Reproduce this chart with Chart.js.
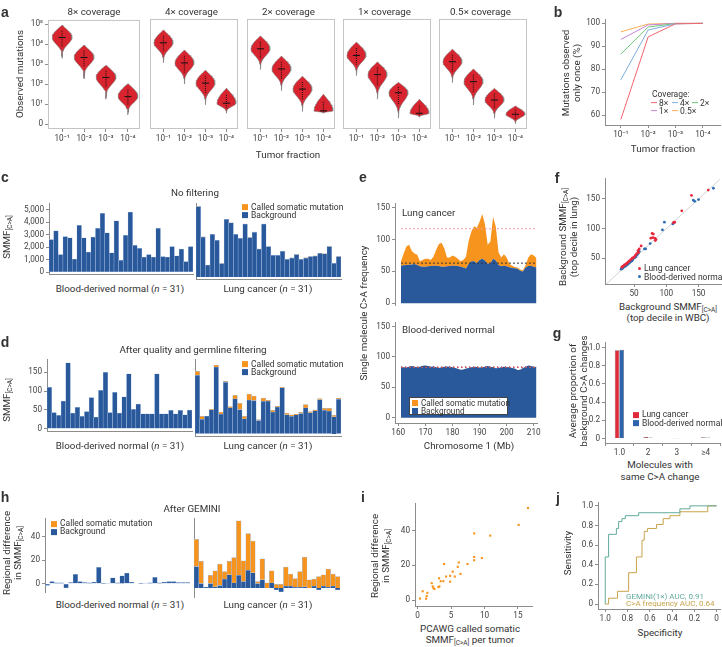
<!DOCTYPE html>
<html>
<head>
<meta charset="utf-8">
<script src="https://cdn.jsdelivr.net/npm/chart.js@4.4.0/dist/chart.umd.min.js"></script>
<style>
body { margin: 0; background: #fff; }
#fig { position: relative; width: 722px; height: 647px; overflow: hidden; font-family: Roboto, "DejaVu Sans", sans-serif; color: #333; }
#fig canvas { position: absolute; }
.t { position: absolute; white-space: nowrap; font-size: 9.8px; line-height: 1.15; transform: translate(-50%, -50%); text-align: center; z-index: 2; }
.t.r { transform: translate(-50%, -50%) rotate(-90deg); }
.t.lft { transform: translate(0, -50%); text-align: left; }
.t.sm { font-size: 8.5px; }
.t.xs { font-size: 8px; }
.t.L { font-family: "Liberation Sans", Arial, sans-serif; font-weight: 700; font-size: 14px; }
sub { font-size: 6.5px; vertical-align: -2px; line-height: 0; }
.sw { display: inline-block; width: 6px; height: 6px; margin-right: 3px; vertical-align: -0.5px; }
.ln { display: inline-block; width: 6px; height: 1.2px; margin-right: 2px; vertical-align: 3px; }
.dot { display: inline-block; width: 3px; height: 3px; border-radius: 2px; margin-right: 3px; vertical-align: 1.5px; }
#eleg { position: absolute; left: 409px; top: 397px; width: 99px; height: 18px; background: #fff; border: 1px solid #444; z-index: 2; font-size: 8.2px; line-height: 8px; padding: 0.5px 2px; box-sizing: border-box; white-space: nowrap; }
</style>
</head>
<body>
<div id="fig"></div>
<script>
'use strict';
// ---------- a: observed mutations (violins, log10 units) ----------
let coverages = ['8×', '4×', '2×', '1×', '0.5×'];
let tumorFractions = ['10⁻¹', '10⁻²', '10⁻³', '10⁻⁴'];
let logTickLabels = ['0', '10¹', '10²', '10³', '10⁴', '10⁵'];
let violinTop = [[4.95, 3.95, 2.95, 2.03], [4.67, 3.67, 2.67, 1.78], [4.37, 3.37, 2.37, 1.48], [4.07, 3.08, 2.07, 1.23], [3.71, 2.73, 1.77, 0.89]];
let violinMode = [[4.33, 3.33, 2.33, 1.37], [4.03, 3.03, 2.03, 1.03], [3.73, 2.73, 1.73, 0.65], [3.4, 2.45, 1.55, 0.53], [3.09, 2.1, 1.19, 0.48]];
let violinBottom = [[3.28, 2.27, 1.25, 0.45], [3.03, 1.98, 0.95, 0.53], [2.7, 1.65, 0.62, 0.53], [2.4, 1.23, 0.29, 0.33], [2.05, 0.94, 0.28, 0.0]];

// ---------- b: mutations observed only once (%) ----------
let onceObserved = [[58.1, 94.1, 99.8, 100], [75.4, 97.1, 99.8, 100], [86.6, 98.4, 99.9, 100], [93, 99.3, 100, 100], [96.3, 99.7, 100, 100]];

// ---------- c: no filtering ----------
let normalNoFilter = [2600, 3300, 1400, 2850, 2750, 1050, 3750, 2750, 1600, 2800, 3500, 4700, 3150, 1550, 4100, 950, 2950, 4800, 2150, 1900, 1200, 1400, 1200, 3500, 1250, 1200, 2050, 1300, 1850, 850, 2050];
let lungNoFilter = [5200, 2950, 880, 3150, 2700, 980, 4250, 4000, 3150, 2850, 3900, 2900, 3300, 2050, 3900, 2250, 1600, 1600, 1900, 1300, 1400, 1650, 1300, 1400, 1500, 1550, 1750, 1700, 2250, 1000, 1500];

// ---------- d: after quality and germline filtering ----------
let normalFiltered = [110, 43, 36, 74, 175, 42, 57, 33, 46, 83, 31, 102, 150, 43, 97, 42, 85, 146, 52, 66, 40, 40, 40, 146, 40, 40, 49, 40, 49, 37, 50];
let lungFiltered = [143, 35, 43, 58, 163, 48, 126, 63, 85, 59, 36, 82, 81, 32, 79, 80, 53, 65, 112, 46, 42, 46, 49, 63, 51, 56, 83, 57, 55, 41, 84];
let lungSomatic = [10, 7, 0, 2, 5, 5, 2, 3, 9, 15, 6, 15, 11, 2, 8, 2, 4, 2, 2, 4, 4, 2, 3, 8, 3, 2, 3, 5, 7, 4, 3];

// ---------- h: after GEMINI ----------
let normalGemini = [-1.5, 1.8, 0.8, 0.8, -3.5, 1, 8, 1.8, 1, 0.8, 1.5, 14, 0.3, 0.5, 5, 0.8, 6.8, 9, 1.5, 0, 0.3, 0.5, 0.8, 5.5, 0.8, 1.5, 1.8, 1.8, 1, 1, 1];
let lungGeminiBackground = [17, 3.5, 0.5, 3.5, 1, 2, 7, 10.5, 4, 10, 5, 14, 12, 3.5, 6.5, 0, 4, -1.5, -3, 1.5, 1.5, 0.5, 0.5, 1, 0, 1.5, -1.5, 1.5, 0.5, 1.5, -1.5];
let lungGeminiSomatic = [21.5, 17.5, 0.3, 6.5, 12.5, 17, 6, 10.5, 20, 43, 16.5, 29, 25, 1.5, 16.5, 4, 9.5, 3, 3, 15, 9.5, 7, 12.5, 23.5, 6.5, 5.5, 9, 9, 14.5, 9.5, 9];

// ---------- e: single molecule C>A frequency along chromosome 1 ----------
let chromPos = [161, 162, 163, 164, 165, 166, 167, 168, 169, 170, 171, 172, 173, 174, 175, 176, 177, 178, 179, 180, 181, 182, 183, 184, 185, 186, 187, 188, 189, 190, 191, 192, 193, 194, 195, 196, 197, 198, 199, 200, 201, 202, 203, 204, 205, 206, 207, 208, 209, 210, 211];
let lungBackground = [59, 59.5, 60, 60.5, 61, 61.5, 60, 58, 57.5, 57.5, 58, 58.5, 59, 59, 58.5, 57.5, 57.5, 58, 58.5, 59, 59, 58.5, 57.5, 56, 54.5, 62, 66, 66, 63, 68, 70, 67, 62, 63, 70, 67, 60, 58, 59, 58, 56.5, 55.5, 55, 54, 51, 50, 56, 58.5, 59, 57.5, 56];
let lungTotal = [65.5, 78, 89, 92, 82, 78, 76, 66, 68, 70, 70, 68, 73, 84, 93, 95, 86, 72, 72, 75, 73, 70, 66, 68, 73, 98, 113, 121, 118, 128, 140, 124, 92, 97, 136, 120, 80, 72, 77, 72, 62, 59, 57, 56, 53, 52, 60, 72, 77, 75, 71];
let normalBackground = [84, 83, 82.5, 84, 85, 84, 83, 84, 85.5, 86, 85, 84, 84.5, 83, 82, 83, 84, 84.5, 84, 83, 82, 80.5, 79, 79.5, 81, 82, 83, 84, 83.5, 82.5, 83, 84, 85, 84, 83, 81.5, 82, 83, 84, 83.5, 83, 82, 81, 78.5, 79, 82, 84, 86, 85, 83.5, 84];
let lungCutoff = 117, lungMean = 63, normalCutoff = 83, normalMean = 83.5;

// ---------- f: background SMMF, top decile ----------
let fLungWbc = [139, 165, 124, 113, 111, 78, 80, 79, 82, 84, 83, 76, 61, 58, 56, 57, 54, 52, 50, 47, 45, 43, 41, 39, 37, 35, 33, 32, 31, 38, 48];
let fLungLung = [156, 165, 130, 111, 110, 92, 91, 85, 84, 82, 80, 84, 71, 66, 63, 60, 58, 55, 52, 50, 48, 46, 44, 42, 40, 39, 37, 36, 35, 41, 51];
let fNormalWbc = [173, 142, 144, 150, 97, 94, 110, 112, 75, 68, 66, 58, 57, 55, 53, 51, 48, 46, 44, 42, 40, 38, 36, 35, 33, 32, 30, 41, 45, 47, 56];
let fNormalLung = [168, 148, 146, 149, 111, 98, 108, 110, 75, 66, 66, 62, 60, 56, 53, 51, 48, 46, 44, 42, 40, 38, 37, 36, 35, 33, 32, 41, 45, 46, 58];

// ---------- g: molecules with same C>A change ----------
let molCategories = ['1.0', '2', '3', '≥4'];
let molLung = [0.97, 0.015, 0.002, 0.012];
let molNormal = [0.975, 0.01, 0.002, 0.01];

// ---------- i: PCAWG vs regional difference ----------
let pcawgSomatic = [16.5, 15.1, 10.85, 8.45, 9.6, 8.45, 8.45, 7.45, 6.15, 3.95, 6.0, 6.4, 5.25, 4.85, 5.55, 4.25, 3.2, 3.45, 3.85, 4.85, 2.1, 2.25, 2.35, 3.1, 3.25, 0.75, 1.45, 1.35, 1.25, 0.35, 2.5];
let regionalDiff = [53.2, 43.4, 37.2, 38.5, 24.3, 24.9, 23, 20.8, 21.7, 20.8, 19.2, 15.1, 16.4, 14, 13.6, 13.6, 12.6, 10.9, 10.9, 10.6, 9.8, 7.9, 7, 7.5, 7.9, 5.1, 4.2, 2.3, 0.8, 0.9, 6.4];

// ---------- j: ROC ----------
let geminiSpec = [1.0, 1.0, 0.97, 0.97, 0.9, 0.9, 0.88, 0.88, 0.85, 0.85, 0.82, 0.82, 0.7, 0.7, 0.33, 0.33, 0.24, 0.24, 0];
let geminiSens = [0, 0.48, 0.48, 0.71, 0.71, 0.77, 0.77, 0.84, 0.84, 0.87, 0.87, 0.9, 0.9, 0.93, 0.93, 0.97, 0.97, 1.0, 1.0];
let freqSpec = [1.0, 0.97, 0.97, 0.89, 0.89, 0.79, 0.79, 0.72, 0.72, 0.67, 0.67, 0.65, 0.65, 0.62, 0.62, 0.54, 0.54, 0.48, 0.48, 0.42, 0.42, 0.33, 0.33, 0.08, 0.08, 0];
let freqSens = [0, 0, 0.06, 0.06, 0.13, 0.13, 0.32, 0.32, 0.48, 0.48, 0.65, 0.65, 0.74, 0.74, 0.77, 0.77, 0.81, 0.81, 0.87, 0.87, 0.9, 0.9, 0.94, 0.94, 1.0, 1.0];

// ---------- styles ----------
const BLUE = '#29589b', ORANGE = '#f7941d', EDGE = '#a9c1e2', RED = '#d7242f', AX = '#8c8c8c';
const COV_COLORS = ['#f0656f', '#7eaedd', '#6fca78', '#c784d6', '#f7ae55'];
const VW = 0.45; // violin half width (x units)
const PAD = 6;

Chart.defaults.font.family = 'Roboto, "DejaVu Sans", sans-serif';
Chart.defaults.font.size = 8.2;
Chart.defaults.color = '#444';

let fig = document.getElementById('fig');

function makeChart(area, yW, xH, config) {
  let l = Math.round(area[0]), t = Math.round(area[1]), r = Math.round(area[2]), b = Math.round(area[3]);
  let w = r - l + yW + PAD, h = b - t + xH + PAD;
  let cv = document.createElement('canvas');
  cv.width = w; cv.height = h;
  cv.style.left = (l - yW) + 'px'; cv.style.top = (t - PAD) + 'px';
  cv.style.width = w + 'px'; cv.style.height = h + 'px';
  fig.appendChild(cv);
  let o = config.options;
  o.responsive = false; o.animation = false; o.devicePixelRatio = 1;
  o.layout = {padding: {top: PAD, right: PAD, bottom: 0, left: 0}};
  o.plugins = Object.assign({legend: {display: false}, tooltip: {enabled: false}}, o.plugins || {});
  o.scales.x.afterFit = s => { s.height = xH; };
  o.scales.y.afterFit = s => { s.width = yW; };
  return new Chart(cv, config);
}

function lin(min, max, ticks, fmt) {
  return {
    type: 'linear', min: min, max: max,
    grid: {drawOnChartArea: false, drawTicks: true, tickLength: 3, color: AX},
    border: {display: true, color: AX, width: 1},
    afterBuildTicks: s => { s.ticks = ticks.map(v => ({value: v})); },
    ticks: {padding: 2, autoSkip: false, maxRotation: 0, callback: fmt || (v => String(v))}
  };
}
function hiddenAxis(type, min, max) {
  let s = {type: type, grid: {display: false}, ticks: {display: false}, border: {display: false}};
  if (min !== undefined) { s.min = min; s.max = max; }
  return s;
}
let dec1 = v => (v === 0 ? '0' : v.toFixed(1));

function txt(x, y, html, cls) {
  let d = document.createElement('div');
  d.className = 't ' + (cls || '');
  d.style.left = x + 'px'; d.style.top = y + 'px';
  d.innerHTML = html;
  fig.appendChild(d);
  return d;
}

const framePlugin = {
  id: 'frame',
  beforeDatasetsDraw(chart) {
    let a = chart.chartArea, ctx = chart.ctx;
    ctx.save(); ctx.strokeStyle = '#c4c4c4'; ctx.lineWidth = 1;
    ctx.strokeRect(a.left + 0.5, a.top + 0.5, a.right - a.left - 1, a.bottom - a.top - 1);
    ctx.restore();
  }
};

// violin outline from its summary values
function violinOutline(cx, top, mode, bottom) {
  let right = [];
  let n = 14;
  for (let k = 0; k <= n; k++) {
    let u = k / n;
    right.push({x: cx + VW * Math.pow(Math.sin(u * Math.PI / 2), 1.1), y: top - u * (top - mode)});
  }
  for (let k = 1; k <= n; k++) {
    let v = k / n;
    let hw = VW * (Math.pow(Math.cos(v * Math.PI / 2), 4) * 0.94 + 0.06 * (1 - v));
    right.push({x: cx + hw, y: mode - v * (mode - bottom)});
  }
  let left = right.slice().reverse().map(p => ({x: 2 * cx - p.x, y: p.y}));
  return right.concat(left);
}

// ===== a =====
let boxesA = [[48, 19, 140, 129], [145, 19, 238, 129], [242, 19, 335, 129], [338, 19, 431, 129], [434, 19, 527, 129]];
coverages.forEach((cov, k) => {
  let ds = [];
  tumorFractions.forEach((tf, i) => {
    let cx = i + 1, top = violinTop[k][i], mode = violinMode[k][i], bot = violinBottom[k][i];
    ds.push({data: violinOutline(cx, top, mode, bot), showLine: true, fill: 'shape', backgroundColor: RED,
      borderColor: '#777', borderWidth: 0.6, pointRadius: 0, order: 3});
    ds.push({data: [{x: cx, y: mode + 0.55 * (top - mode)}, {x: cx, y: mode - 0.45 * (mode - bot)}], showLine: true,
      borderColor: '#3a1010', borderWidth: 1.2, borderDash: [1, 1], pointRadius: 0, order: 2});
    ds.push({data: [{x: cx, y: mode}], pointStyle: 'line', pointRadius: 3.5, borderColor: '#111', borderWidth: 1, order: 1});
  });
  let y = k === 0 ? lin(-0.25, 5.21, [0, 1, 2, 3, 4, 5], v => logTickLabels[v]) : hiddenAxis('linear', -0.25, 5.21);
  if (k === 0) y.border.display = false;
  let x = lin(0.36, 4.55, [1, 2, 3, 4], v => tumorFractions[v - 1]);
  x.border.display = false;
  makeChart(boxesA[k], k === 0 ? 30 : 0, 16, {type: 'scatter', data: {datasets: ds},
    options: {scales: {x: x, y: y}}, plugins: [framePlugin]});
  txt((boxesA[k][0] + boxesA[k][2]) / 2, 12, cov + ' coverage');
});
txt(288, 155, 'Tumor fraction');
txt(20, 74, 'Observed mutations', 'r');

// ===== b =====
makeChart([605, 19, 720, 125], 24, 16, {type: 'scatter',
  data: {datasets: coverages.map((c, k) => ({data: onceObserved[k].map((v, i) => ({x: i + 1, y: v})),
    showLine: true, borderColor: COV_COLORS[k], borderWidth: 1, pointRadius: 0}))},
  options: {scales: {x: lin(0.42, 4.63, [1, 2, 3, 4], v => tumorFractions[v - 1]), y: lin(55.7, 101.5, [60, 70, 80, 90, 100])}}});
txt(663, 149, 'Tumor fraction');
txt(571, 73, 'Mutations observed<br>only once (%)', 'r');
txt(652, 94.5, 'Coverage:', 'lft sm');
let covLeg = [[651, 104], [672, 104], [692, 104], [651, 112], [672, 112]];
coverages.forEach((c, k) => {
  txt(covLeg[k][0], covLeg[k][1], '<span class="ln" style="background:' + COV_COLORS[k] + '"></span>' + c, 'lft sm');
});

// ===== c, d, h (paired bar panels) =====
function barChart(area, yW, yScale, bg, som, xBorder) {
  return makeChart(area, yW, 2, {type: 'bar',
    data: {labels: bg.map((v, i) => String(i + 1)), datasets: [
      {data: bg, backgroundColor: BLUE, borderColor: EDGE, borderWidth: 0.5},
      {data: som, backgroundColor: ORANGE, borderColor: EDGE, borderWidth: 0.5}]},
    options: {datasets: {bar: {barPercentage: 1, categoryPercentage: 1}},
      scales: {x: {type: 'category', stacked: true, offset: true, grid: {display: false}, ticks: {display: false},
        border: {display: xBorder, color: AX}}, y: yScale}}});
}
function dividerAxis(min, max) {
  return {type: 'linear', min: min, max: max, stacked: true, grid: {display: false}, ticks: {display: false}, border: {display: true, color: AX}};
}
let zeros = normalNoFilter.map(() => 0);
let fmtK = v => v.toLocaleString('en-US');

let cY = lin(-150, 5460, [0, 1000, 2000, 3000, 4000, 5000], fmtK); cY.stacked = true;
barChart([49, 203, 193, 279], 30, cY, normalNoFilter, zeros, true);
barChart([196, 203, 341, 279], 2, dividerAxis(-150, 5460), lungNoFilter, lungSomatic, true);

let dY = lin(-6, 183, [0, 50, 100, 150]); dY.stacked = true;
barChart([47, 359, 192, 436], 30, dY, normalFiltered, zeros, true);
barChart([195, 359, 341, 436], 2, dividerAxis(-6, 183), lungFiltered, lungSomatic, true);

let hY = lin(-7.1, 55.3, [0, 20, 40]); hY.stacked = true;
barChart([45, 518, 190, 597], 28, hY, normalGemini, zeros, false);
barChart([194, 518, 340, 597], 2, dividerAxis(-7.1, 55.3), lungGeminiBackground, lungGeminiSomatic, false);

function somLegend(x, y) {
  txt(x, y, '<span class="sw" style="background:' + ORANGE + '"></span>Called somatic mutation', 'lft sm');
  txt(x, y + 8, '<span class="sw" style="background:' + BLUE + '"></span>Background', 'lft sm');
}
txt(195, 193, 'No filtering');
somLegend(242, 207.5);
txt(193, 350, 'After quality and germline filtering');
somLegend(242, 364.5);
txt(192, 509, 'After GEMINI');
somLegend(51, 524);
[289, 445.5, 605].forEach(y => {
  txt(120, y, 'Blood-derived normal (<i>n</i> = 31)');
  txt(268, y, 'Lung cancer (<i>n</i> = 31)');
});
txt(7, 237, 'SMMF<sub>[C&gt;A]</sub>', 'r');
txt(7, 400, 'SMMF<sub>[C&gt;A]</sub>', 'r');
txt(12, 553, 'Regional difference<br>in SMMF<sub>[C&gt;A]</sub>', 'r');

// ===== e =====
function pts(xs, ys) { return xs.map((x, i) => ({x: x, y: ys[i]})); }
function hline(v, color, dash) {
  return {data: [{x: chromPos[0], y: v}, {x: chromPos[chromPos.length - 1], y: v}], showLine: true,
    borderColor: color, borderWidth: 1, borderDash: dash, pointRadius: 0};
}
makeChart([395, 203, 537, 312], 22, 0, {type: 'scatter',
  data: {datasets: [
    hline(lungCutoff, '#f29aa6', [2, 2]),
    hline(lungMean, '#333', [2, 2]),
    {data: pts(chromPos, lungBackground), showLine: true, fill: 'origin', backgroundColor: BLUE, borderWidth: 0, pointRadius: 0},
    {data: pts(chromPos, lungTotal), showLine: true, fill: '-1', backgroundColor: ORANGE, borderWidth: 0, pointRadius: 0}]},
  options: {scales: {x: hiddenAxis('linear', 158.8, 211.2), y: lin(-2.9, 156, [0, 50, 100, 150])}}});
makeChart([395, 322, 537, 423], 22, 16, {type: 'scatter',
  data: {datasets: [
    hline(normalCutoff, '#e0505f', [2, 2]),
    hline(normalMean, '#333', [1, 3]),
    {data: pts(chromPos, normalBackground), showLine: true, fill: 'origin', backgroundColor: BLUE, borderWidth: 0, pointRadius: 0}]},
  options: {scales: {x: lin(158.8, 211.2, [160, 170, 180, 190, 200, 210]), y: lin(-8.6, 156, [0, 50, 100, 150])}}});
txt(402, 213, 'Lung cancer', 'lft');
txt(402, 330, 'Blood-derived normal', 'lft');
txt(469, 446, 'Chromosome 1 (Mb)');
txt(364, 313, 'Single molecule C&gt;A frequency', 'r');
let eleg = document.createElement('div');
eleg.id = 'eleg';
eleg.innerHTML = '<span class="sw" style="background:' + ORANGE + '"></span>Called somatic mutation<br><span class="sw" style="background:' + BLUE + '"></span>Background';
fig.appendChild(eleg);

// ===== f =====
makeChart([605, 178, 722, 284], 24, 16, {type: 'scatter',
  data: {datasets: [
    {data: pts(fLungWbc, fLungLung), backgroundColor: '#e8283c', borderWidth: 0, pointRadius: 1.4},
    {data: pts(fNormalWbc, fNormalLung), backgroundColor: '#2e6db4', borderWidth: 0, pointRadius: 1.4},
    {data: [{x: 5, y: 5}, {x: 190, y: 190}], showLine: true, borderColor: '#c8c8c8', borderWidth: 0.8, pointRadius: 0}]},
  options: {scales: {x: lin(5, 186.3, [50, 100, 150]), y: lin(7, 183.7, [50, 100, 150])}}});
txt(568, 237, 'Background SMMF<sub>[C&gt;A]</sub><br>(top decile in lung)', 'r');
txt(668, 307, 'Background SMMF<sub>[C&gt;A]</sub>');
txt(668, 318, '(top decile in WBC)');
txt(638, 269, '<span class="dot" style="background:#e8283c"></span>Lung cancer', 'lft sm');
txt(638, 277.5, '<span class="dot" style="background:#2e6db4"></span>Blood-derived normal', 'lft sm');

// ===== g =====
let gX = {type: 'category', offset: true, grid: {drawOnChartArea: false, drawTicks: true, tickLength: 3, color: AX},
  border: {display: true, color: AX}, ticks: {padding: 2}};
makeChart([605, 342, 720, 443], 22, 16, {type: 'bar',
  data: {labels: molCategories, datasets: [
    {data: molLung, backgroundColor: '#e02b3a', borderColor: '#555', borderWidth: 0.6},
    {data: molNormal, backgroundColor: '#2d64ad', borderColor: '#555', borderWidth: 0.6}]},
  options: {datasets: {bar: {barPercentage: 1, categoryPercentage: 0.32}},
    scales: {x: gX, y: lin(-0.05, 1.05, [0, 0.2, 0.4, 0.6, 0.8, 1], dec1)}}});
txt(578, 391, 'Average proportion of<br>background C&gt;A changes', 'r');
txt(660, 465, 'Molecules with');
txt(660, 476.5, 'same C&gt;A change');
txt(633, 415, '<span class="sw" style="background:#e02b3a"></span>Lung cancer', 'lft sm');
txt(633, 423.5, '<span class="sw" style="background:#2d64ad"></span>Blood-derived normal', 'lft sm');

// ===== i =====
makeChart([415, 503, 532, 606], 22, 14, {type: 'scatter',
  data: {datasets: [{data: pts(pcawgSomatic, regionalDiff), backgroundColor: ORANGE, borderWidth: 0, pointRadius: 1.5, pointStyle: 'rect'}]},
  options: {scales: {x: lin(-0.4, 17.1, [0, 5, 10, 15]), y: lin(-3.4, 55.5, [0, 20, 40])}}});
txt(380, 556, 'Regional difference<br>in SMMF<sub>[C&gt;A]</sub>', 'r');
txt(470, 629, 'PCAWG called somatic');
txt(470, 640, 'SMMF<sub>[C&gt;A]</sub> per tumor');

// ===== j =====
let jX = lin(-0.03, 1.065, [0, 0.2, 0.4, 0.6, 0.8, 1], dec1);
jX.reverse = true;
makeChart([598, 502, 720, 609], 22, 18, {type: 'scatter',
  data: {datasets: [
    {data: pts(geminiSpec, geminiSens), showLine: true, borderColor: '#62aa9d', borderWidth: 1, pointRadius: 0},
    {data: pts(freqSpec, freqSens), showLine: true, borderColor: '#c9a44c', borderWidth: 1, pointRadius: 0}]},
  options: {scales: {x: jX, y: lin(-0.05, 1.03, [0, 0.2, 0.4, 0.6, 0.8, 1], dec1)}}});
txt(660, 633, 'Specificity');
txt(568, 553, 'Sensitivity', 'r');
txt(626, 596.5, '<span style="color:#62aa9d">GEMINI(1×) AUC, 0.91</span>', 'lft xs');
txt(626, 604, '<span style="color:#c9a44c">C&gt;A frequency AUC, 0.64</span>', 'lft xs');

// ===== panel letters =====
[['a', 5, 12], ['b', 558, 12], ['c', 5, 177], ['d', 5, 342], ['e', 363, 177], ['f', 557, 178],
 ['g', 557, 333], ['h', 5, 497], ['i', 363, 497], ['j', 558, 498]].forEach(p => txt(p[1], p[2], p[0], 'L'));
</script>
</body>
</html>
